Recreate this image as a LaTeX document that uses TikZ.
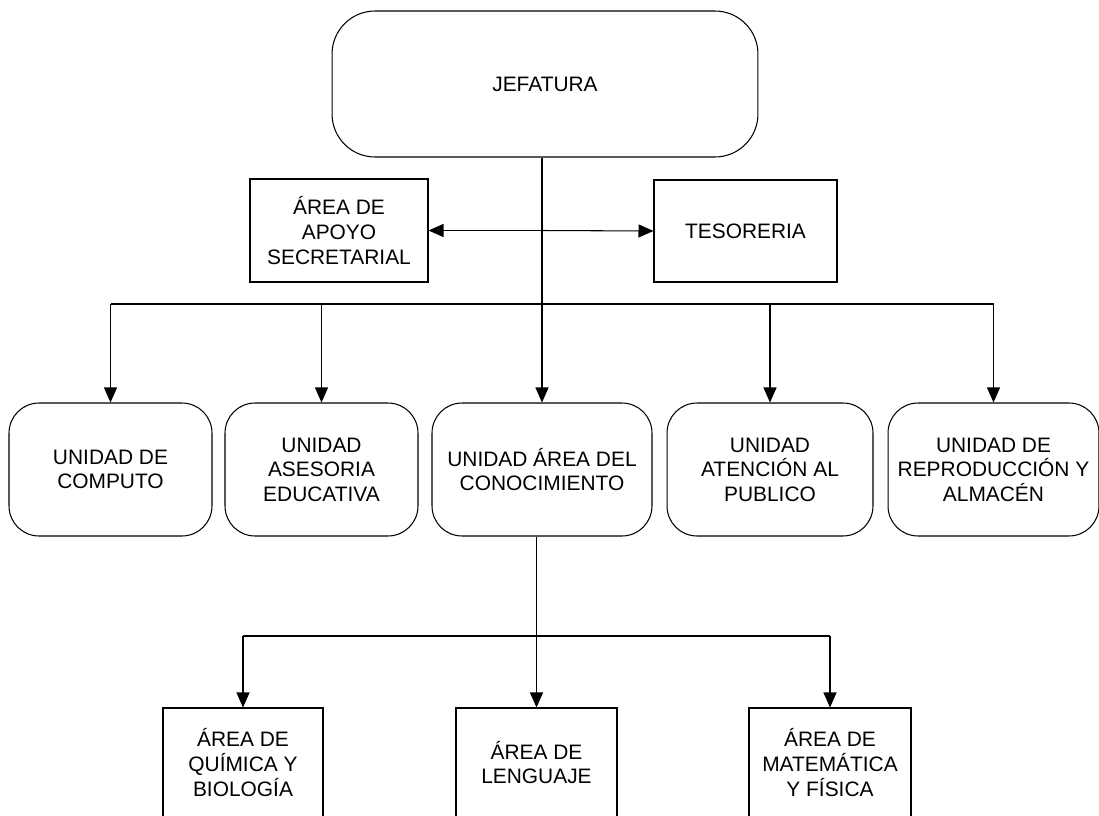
\documentclass[tikz,border=0pt]{standalone}
\usepackage{fontspec}
\setmainfont{Liberation Sans}
\usetikzlibrary{arrows.meta, positioning}
\tikzset{
    unidad/.style={draw, rounded corners=0.6cm, minimum height=2.66cm, align=center, inner sep=0pt},
    area/.style={draw, minimum height=2.18cm, align=center, inner sep=0pt},
    flecha/.style={-{Triangle[length=0.3cm, width=0.26cm]}},
}

\begin{document}
\begin{tikzpicture}[x=0.02cm, y=-0.02cm, line width=0.6pt, font=\fontsize{11.9}{14}\selectfont]
    \useasboundingbox (0,0) rectangle (1099,815);

    % Jefatura
    \node[draw, rounded corners=0.86cm, minimum width=8.52cm, minimum height=2.92cm, inner sep=0pt] (jefatura) at (545,84) {JEFATURA};

    % Staff boxes
    \node[draw, minimum width=3.56cm, minimum height=2.06cm, align=center, inner sep=0pt] (apoyo) at (339,230.5) {ÁREA DE\\APOYO\\SECRETARIAL};
    \node[draw, minimum width=3.66cm, minimum height=2.04cm, inner sep=0pt] (tesoreria) at (745.5,231) {TESORERIA};

    % Unidades
    \node[unidad, minimum width=4.06cm] (computo) at (110.5,469.5) {UNIDAD DE\\COMPUTO};
    \node[unidad, minimum width=3.86cm] (asesoria) at (321.5,469.5) {UNIDAD\\ASESORIA\\EDUCATIVA};
    \node[unidad, minimum width=4.4cm] (conocimiento) at (542,469.5) {UNIDAD ÁREA DEL\\CONOCIMIENTO};
    \node[unidad, minimum width=4.12cm] (atencion) at (770,469.5) {UNIDAD\\ATENCIÓN AL\\PUBLICO};
    \node[unidad, minimum width=4.22cm] (reproduccion) at (993.5,469.5) {UNIDAD DE\\REPRODUCCIÓN Y\\ALMACÉN};

    % Areas
    \node[area, minimum width=3.2cm] (quimica) at (243,762.5) {ÁREA DE\\QUÍMICA Y\\BIOLOGÍA};
    \node[area, minimum width=3.22cm] (lenguaje) at (536.5,762.5) {ÁREA DE\\LENGUAJE};
    \node[area, minimum width=3.24cm] (matematica) at (830,762.5) {ÁREA DE\\MATEMÁTICA\\Y FÍSICA};

    % Connectors
    \coordinate (hub) at (542,230.5);
    \coordinate (bus) at (0,304);
    \coordinate (bus2) at (0,636);
    \draw[flecha] (conocimiento.north |- jefatura.south) -- (conocimiento.north);
    \draw[flecha] (hub) -- (apoyo.east);
    \draw[flecha] (hub) -- (tesoreria.west);
    \draw (computo.north |- bus) -- (reproduccion.north |- bus);
    \foreach \u in {computo, asesoria, atencion, reproduccion}
        \draw[flecha] (\u.north |- bus) -- (\u.north);
    \draw[flecha] (lenguaje.north |- conocimiento.south) -- (lenguaje.north);
    \draw (quimica.north |- bus2) -- (matematica.north |- bus2);
    \draw[flecha] (quimica.north |- bus2) -- (quimica.north);
    \draw[flecha] (matematica.north |- bus2) -- (matematica.north);
\end{tikzpicture}
\end{document}
